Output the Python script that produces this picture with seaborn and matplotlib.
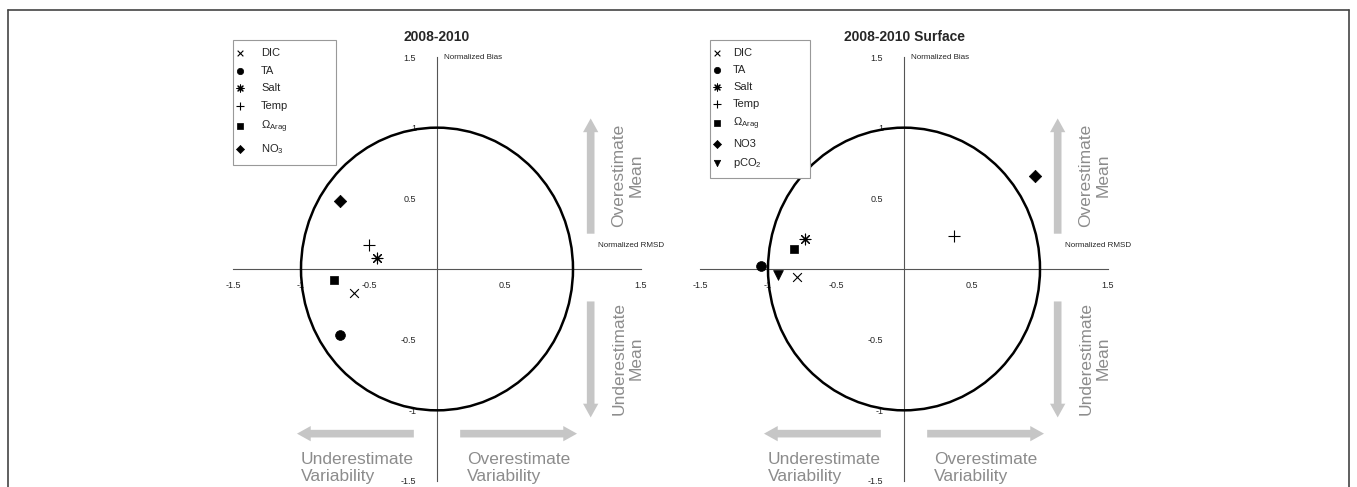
import matplotlib
matplotlib.use("Agg")
import matplotlib.pyplot as plt
from matplotlib.patches import Circle, Rectangle
from matplotlib.lines import Line2D
import seaborn as sns

sns.set_style("white")
plt.rcParams["font.family"] = ["Liberation Sans", "DejaVu Sans"]
plt.rcParams["mathtext.fontset"] = "custom"
plt.rcParams["mathtext.rm"] = "Liberation Sans"
plt.rcParams["mathtext.it"] = "Liberation Sans"

# data
titles = ["2008-2010", "2008-2010 Surface"]

left_labels = ["DIC", "TA", "Salt", "Temp", r"$\Omega_{\rm Arag}$", r"NO$_3$"]
left_markers = ["x", "o", (8, 2, 0), "+", "s", "D"]
left_rmsd = [-0.61, -0.71, -0.44, -0.50, -0.76, -0.71]
left_bias = [-0.17, -0.47, 0.08, 0.17, -0.08, 0.48]

right_labels = ["DIC", "TA", "Salt", "Temp", r"$\Omega_{\rm Arag}$", "NO3", r"pCO$_2$"]
right_markers = ["x", "o", (8, 2, 0), "+", "s", "D", "v"]
right_rmsd = [-0.785, -1.05, -0.73, 0.37, -0.81, 0.96, -0.93]
right_bias = [-0.06, 0.02, 0.21, 0.23, 0.145, 0.66, -0.04]

x_ticks = [-1.5, -1, -0.5, 0.5, 1.5]
x_ticklabels = ["-1.5", "-1", "-0.5", "0.5", "1.5"]
y_ticks = [-1.5, -1, -0.5, 0.5, 1, 1.5]
y_ticklabels = ["-1.5", "-1", "-0.5", "0.5", "1", "1.5"]

W, H = 1357, 487
fig = plt.figure(figsize=(W / 100, H / 100), dpi=100)

# thin frame around the figure (no bottom edge visible)
fx0, fx1, fy1 = 8 / W, 1349 / W, 1 - 10 / H
for xs, ys in [([fx0, fx0], [0, fy1]), ([fx0, fx1], [fy1, fy1]), ([fx1, fx1], [fy1, 0])]:
    fig.add_artist(Line2D(xs, ys, color="#444444", lw=1.2, transform=fig.transFigure))

axes_left_px = [233, 700]
ax_w = 408 / W
ax_b = 1 - 481 / H
ax_h = 424 / H

sizes = {"x": 40, "o": 50, "+": 70, "s": 36, "D": 40, "v": 50}

grey_txt = "#8c8c8c"
grey_arrow = "#c6c6c6"

# legend: box in pixels (left, top, right, bottom), legend anchor (x, y) px,
# label spacing, handle-text pad
panels = [
    (titles[0], left_labels, left_markers, left_rmsd, left_bias,
     (233, 40, 336, 165), (226, 42), 0.68, 1.2),
    (titles[1], right_labels, right_markers, right_rmsd, right_bias,
     (710, 40, 810, 178), (703, 42), 0.62, 0.75),
]

for i, (title, labels, markers, rmsd, bias, box, anchor, leg_sp, htp) in enumerate(panels):
    ax0 = axes_left_px[i]
    ax = fig.add_axes([ax0 / W, ax_b, ax_w, ax_h])
    ax.set_xlim(-1.5, 1.5)
    ax.set_ylim(-1.5, 1.5)
    ax.patch.set_alpha(0)

    for side in ["top", "right"]:
        ax.spines[side].set_visible(False)
    for side in ["left", "bottom"]:
        ax.spines[side].set_position("zero")
        ax.spines[side].set_color("#555555")
        ax.spines[side].set_linewidth(0.8)

    ax.set_xticks(x_ticks)
    ax.set_xticklabels(x_ticklabels)
    ax.set_yticks(y_ticks)
    ax.set_yticklabels(y_ticklabels)
    ax.tick_params(direction="in", length=5, width=0.8, color="#555555", labelsize=6.5)
    ax.tick_params(axis="x", pad=9)
    ax.tick_params(axis="y", pad=15)

    ax.add_patch(Circle((0, 0), 1, fill=False, color="black", lw=1.8, zorder=3))

    for lab, mk, xv, yv in zip(labels, markers, rmsd, bias):
        key = mk if isinstance(mk, str) else "*"
        s = sizes.get(key, 60)
        if mk in ("x", "+") or not isinstance(mk, str):
            sns.scatterplot(x=[xv], y=[yv], marker=mk, s=s, color="black",
                            linewidth=0.8, label=lab, ax=ax, zorder=4)
        else:
            sns.scatterplot(x=[xv], y=[yv], marker=mk, s=s, color="black",
                            edgecolor="black", linewidth=0.5, label=lab, ax=ax, zorder=4)

    # legend box drawn by hand, entries from the legend
    bl, bt, br, bb = box
    ax.add_patch(Rectangle(((bl - ax0) / 408, (481 - bb) / 424), (br - bl) / 408,
                           (bb - bt) / 424, transform=ax.transAxes, fill=True,
                           facecolor="white", edgecolor="#999999", lw=0.8,
                           clip_on=False, zorder=5))
    leg = ax.legend(loc="upper left",
                    bbox_to_anchor=((anchor[0] - ax0) / 408, (481 - anchor[1]) / 424),
                    borderaxespad=0, fontsize=8, frameon=False, labelspacing=leg_sp,
                    handletextpad=htp, borderpad=0.55, handlelength=1.4,
                    markerscale=0.65)
    leg.set_zorder(6)

    ax.text(0.5, 1.047, title, transform=ax.transAxes, ha="center", va="center",
            fontsize=10, fontweight="bold")
    ax.text(0.05, 1.5, "Normalized Bias", ha="left", va="center", fontsize=5.8,
            clip_on=False)
    ax.text(1.43, 0.165, "Normalized RMSD", ha="center", va="center", fontsize=5.8,
            clip_on=False)

    arrow_kw = dict(arrowstyle="simple,head_width=1.0,head_length=0.9,tail_width=0.5",
                    color=grey_arrow, lw=0, mutation_scale=11)
    ax.annotate("", xy=(1.13, 1.085), xytext=(1.13, 0.23), arrowprops=arrow_kw,
                annotation_clip=False)
    ax.annotate("", xy=(1.13, -1.07), xytext=(1.13, -0.21), arrowprops=arrow_kw,
                annotation_clip=False)
    ax.annotate("", xy=(-1.05, -1.165), xytext=(-0.15, -1.165), arrowprops=arrow_kw,
                annotation_clip=False)
    ax.annotate("", xy=(1.05, -1.165), xytext=(0.15, -1.165), arrowprops=arrow_kw,
                annotation_clip=False)

    txt_kw = dict(fontsize=12.5, color=grey_txt, linespacing=1.15, clip_on=False)
    ax.text(1.40, 0.66, "Overestimate\nMean", rotation=90, ha="center", va="center",
            **txt_kw)
    ax.text(1.40, -0.63, "Underestimate\nMean", rotation=90, ha="center", va="center",
            **txt_kw)
    ax.text(-1.0, -1.41, "Underestimate\nVariability", ha="left", va="center", **txt_kw)
    ax.text(0.22, -1.41, "Overestimate\nVariability", ha="left", va="center", **txt_kw)

fig.savefig("out.png", dpi=100)
